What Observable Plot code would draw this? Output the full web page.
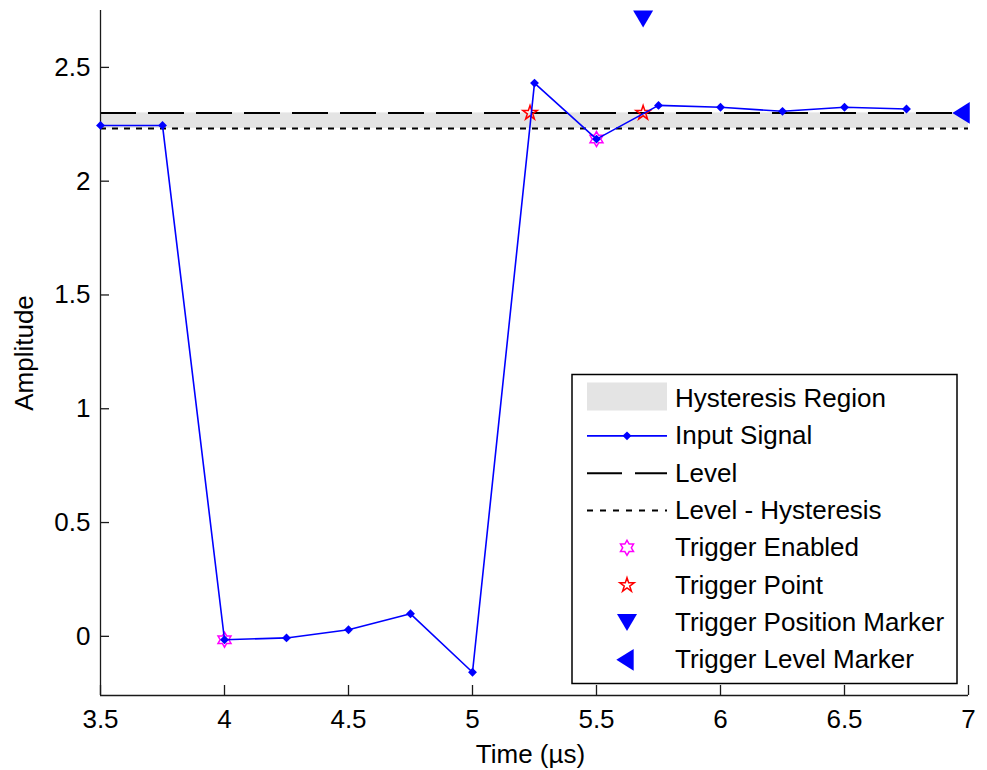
<!DOCTYPE html>
<html>
<head>
<meta charset="utf-8">
<script src="https://cdn.jsdelivr.net/npm/d3@7"></script>
<script src="https://cdn.jsdelivr.net/npm/@observablehq/plot@0.6"></script>
<style>
  body { margin: 0; background: #fff; }
  #chart { position: relative; width: 987px; height: 770px; }
</style>
</head>
<body>
<div id="chart"></div>
<script>
// ---- Data ----
const time = [3.5, 3.75, 4.0, 4.25, 4.5, 4.75, 5.0, 5.25, 5.5, 5.75, 6.0, 6.25, 6.5, 6.75];
const amplitude = [2.245, 2.245, -0.015, -0.007, 0.029, 0.099, -0.158, 2.431, 2.185, 2.333, 2.325, 2.307, 2.325, 2.317];
const level = 2.3;
const levelMinusHysteresis = 2.232;
const enabledTime = [4.0, 5.5];
const enabledAmp = [-0.015, 2.185];
const triggerTime = [5.232, 5.688];
const triggerAmp = [2.3, 2.3];
const positionMarkerTime = [5.688];
const positionMarkerAmp = [2.713];
const levelMarkerTime = [6.97];
const levelMarkerAmp = [2.3];
const xDomain = [3.5, 7];
const yDomain = [-0.26, 2.75];
const xTicks = [3.5, 4, 4.5, 5, 5.5, 6, 6.5, 7];
const xTickLabels = ["3.5", "4", "4.5", "5", "5.5", "6", "6.5", "7"];
const yTicks = [0, 0.5, 1, 1.5, 2, 2.5];
const yTickLabels = ["0", "0.5", "1", "1.5", "2", "2.5"];
const xLabel = "Time (µs)";
const yLabel = "Amplitude";
const legendLabels = ["Hysteresis Region", "Input Signal", "Level", "Level - Hysteresis",
  "Trigger Enabled", "Trigger Point", "Trigger Position Marker", "Trigger Level Marker"];

// ---- Symbols ----
const rOf = size => Math.sqrt(size / Math.PI);
const downTri = { draw(ctx, size) { const r = rOf(size);
  ctx.moveTo(-r, -0.85 * r); ctx.lineTo(r, -0.85 * r); ctx.lineTo(0, 0.85 * r); ctx.closePath(); } };
const leftTri = { draw(ctx, size) { const r = rOf(size);
  ctx.moveTo(-0.8 * r, 0); ctx.lineTo(0.8 * r, -r); ctx.lineTo(0.8 * r, r); ctx.closePath(); } };
const starSymbol = (n, inner) => ({ draw(ctx, size) {
  const R = rOf(size), ri = R * inner;
  for (let i = 0; i < 2 * n; i++) {
    const a = Math.PI * i / n - Math.PI / 2;
    const rr = i % 2 ? ri : R;
    const x = rr * Math.cos(a), y = rr * Math.sin(a);
    if (i) ctx.lineTo(x, y); else ctx.moveTo(x, y);
  }
  ctx.closePath();
} });
const pentagram = starSymbol(5, 0.382);
const hexagram = starSymbol(6, 0.577);

const signal = time.map((t, i) => ({ t, a: amplitude[i] }));
const enabled = enabledTime.map((t, i) => ({ t, a: enabledAmp[i] }));
const triggers = triggerTime.map((t, i) => ({ t, a: triggerAmp[i] }));
const posMarker = positionMarkerTime.map((t, i) => ({ t, a: positionMarkerAmp[i] }));
const lvlMarker = levelMarkerTime.map((t, i) => ({ t, a: levelMarkerAmp[i] }));

const FONT = "'Liberation Sans', Arial, sans-serif";
const BLUE = "#0000ff";
const axisColor = "#1a1a1a";

const plot = Plot.plot({
  width: 987, height: 770,
  marginLeft: 100, marginRight: 19, marginTop: 10, marginBottom: 75,
  style: { fontFamily: FONT, fontSize: "26px", color: "#000", background: "#fff", overflow: "visible" },
  x: { domain: xDomain },
  y: { domain: yDomain },
  marks: [
    Plot.rect([0], { x1: () => xDomain[0], x2: () => xDomain[1], y1: () => levelMinusHysteresis, y2: () => level, fill: "#e4e4e4" }),
    Plot.ruleY([levelMinusHysteresis], { stroke: "#000", strokeWidth: 2, strokeDasharray: "6,6" }),
    Plot.ruleY([level], { stroke: "#000", strokeWidth: 2, strokeDasharray: "36,12" }),
    Plot.ruleX([xDomain[0]], { stroke: axisColor, strokeWidth: 1.3 }),
    Plot.ruleY([yDomain[0]], { stroke: axisColor, strokeWidth: 1.3 }),
    Plot.tickX(xTicks, { x: d => d, insetTop: 675, stroke: axisColor, strokeWidth: 1.3 }),
    Plot.tickY(yTicks, { y: d => d, insetRight: 859, stroke: axisColor, strokeWidth: 1.3 }),
    Plot.axisX(xTicks, { tickSize: 0, tickPadding: 14, tickFormat: d => xTickLabels[xTicks.indexOf(d)], label: null, fill: "#000" }),
    Plot.axisY(yTicks, { tickSize: 0, tickPadding: 10, tickFormat: d => yTickLabels[yTicks.indexOf(d)], label: null, fill: "#000" }),
    Plot.text([xLabel], { frameAnchor: "bottom", lineAnchor: "middle", textAnchor: "middle", dx: -4, dy: 59, text: d => d, fill: "#000" }),
    Plot.text([yLabel], { frameAnchor: "left", lineAnchor: "middle", textAnchor: "middle", dx: -76, rotate: -90, text: d => d, fill: "#000" }),
    Plot.dot(enabled, { x: "t", y: "a", symbol: hexagram, r: 7.5, stroke: "#ff00ff", fill: "none", strokeWidth: 1.5 }),
    Plot.dot(triggers, { x: "t", y: "a", symbol: pentagram, r: 7.5, stroke: "#ff0000", fill: "none", strokeWidth: 1.5 }),
    Plot.line(signal, { x: "t", y: "a", stroke: BLUE, strokeWidth: 1.6 }),
    Plot.dot(signal, { x: "t", y: "a", symbol: "diamond2", r: 4, fill: BLUE, stroke: "none" }),
    Plot.dot(posMarker, { x: "t", y: "a", symbol: downTri, r: 10, fill: BLUE, stroke: "none" }),
    Plot.dot(lvlMarker, { x: "t", y: "a", symbol: leftTri, r: 10.85, fill: BLUE, stroke: "none" })
  ]
});
document.getElementById("chart").appendChild(plot);

// ---- Legend (inside plot area) ----
const svg = d3.select(plot);
const lg = svg.append("g").attr("font-family", FONT).attr("font-size", 26).attr("fill", "#000")
  .attr("text-anchor", "start").style("text-anchor", "start");
lg.append("rect").attr("x", 572).attr("y", 374.5).attr("width", 385).attr("height", 309)
  .attr("fill", "#fff").attr("stroke", "#000").attr("stroke-width", 1.5);
const x0 = 587, x1 = 667, xm = 627, tx = 675;
const baseline = i => 407 + 37.33 * i;
const mid = i => baseline(i) - 8.5;
legendLabels.forEach((lab, i) => {
  lg.append("text").attr("x", tx).attr("y", baseline(i)).attr("text-anchor", "start").text(lab);
});
lg.append("rect").attr("x", x0).attr("y", mid(0) - 16).attr("width", x1 - x0).attr("height", 28).attr("fill", "#e4e4e4");
lg.append("line").attr("x1", x0).attr("x2", x1).attr("y1", mid(1)).attr("y2", mid(1)).attr("stroke", BLUE).attr("stroke-width", 1.6);
lg.append("path").attr("transform", `translate(${xm},${mid(1)})`).attr("d", d3.symbol(d3.symbolDiamond2, Math.PI * 4 * 4)()).attr("fill", BLUE);
lg.append("line").attr("x1", x0).attr("x2", x1).attr("y1", mid(2)).attr("y2", mid(2)).attr("stroke", "#000").attr("stroke-width", 2).attr("stroke-dasharray", "35,13");
lg.append("line").attr("x1", x0).attr("x2", x1).attr("y1", mid(3)).attr("y2", mid(3)).attr("stroke", "#000").attr("stroke-width", 2).attr("stroke-dasharray", "6,7");
lg.append("path").attr("transform", `translate(${xm},${mid(4)})`).attr("d", d3.symbol(hexagram, Math.PI * 7.5 * 7.5)()).attr("fill", "none").attr("stroke", "#ff00ff").attr("stroke-width", 1.5);
lg.append("path").attr("transform", `translate(${xm},${mid(5)})`).attr("d", d3.symbol(pentagram, Math.PI * 7.5 * 7.5)()).attr("fill", "none").attr("stroke", "#ff0000").attr("stroke-width", 1.5);
lg.append("path").attr("transform", `translate(${xm},${mid(6)})`).attr("d", d3.symbol(downTri, Math.PI * 10 * 10)()).attr("fill", BLUE);
lg.append("path").attr("transform", `translate(${xm - 2},${mid(7)})`).attr("d", d3.symbol(leftTri, Math.PI * 10.85 * 10.85)()).attr("fill", BLUE);
</script>
</body>
</html>
